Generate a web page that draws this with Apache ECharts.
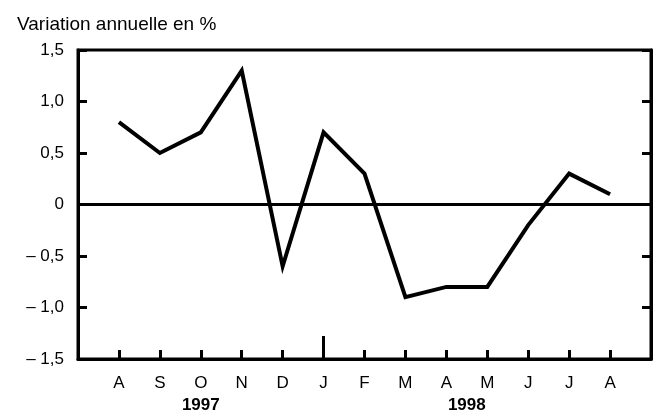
<!DOCTYPE html>
<html>
<head>
<meta charset="utf-8">
<script src="https://cdn.jsdelivr.net/npm/echarts@6/dist/echarts.min.js"></script>
<style>
  html, body { margin: 0; padding: 0; background: #fff; }
  #chart { width: 660px; height: 418px; }
</style>
</head>
<body>
<div id="chart"></div>
<script>
// month letters, Aug 1997 -> Aug 1998
const months = ["A", "S", "O", "N", "D", "J", "F", "M", "A", "M", "J", "J", "A"];
const values = [0.8, 0.5, 0.7, 1.3, -0.6, 0.7, 0.3, -0.9, -0.8, -0.8, -0.2, 0.3, 0.1];
const years = ["1997", "1998"];
const yearPos = [3, 9.5];   // centre of each year label, in month slots
const yearBreak = 6;        // the long tick before January

const font = "'Liberation Sans', Arial, sans-serif";
const black = "#000";

const chart = echarts.init(document.getElementById("chart"), null, { renderer: "canvas" });

const fmtY = (v) => {
  if (v === 0) return "0";
  const s = Math.abs(v).toFixed(1).replace(".", ",");
  return v < 0 ? "\u2013 " + s : s;
};

chart.setOption({
  backgroundColor: "#fff",
  animation: false,
  title: {
    text: "Variation annuelle en %",
    left: 12,
    top: 10,
    textStyle: { fontFamily: font, fontSize: 19, fontWeight: "normal", color: black },
  },
  grid: {
    left: 78, right: 9, top: 50, bottom: 59,
    show: true, borderColor: black, borderWidth: 3,
  },
  xAxis: [
    {
      type: "value",
      min: 0, max: months.length + 1, interval: 1,
      axisLine: { show: true, onZero: false, lineStyle: { color: black, width: 3 } },
      axisTick: { show: true, inside: true, length: 9, lineStyle: { color: black, width: 3 } },
      axisLabel: {
        margin: 16,
        fontFamily: font, fontSize: 17, color: black,
        formatter: (v) => months[v - 1] || "",
      },
      splitLine: { show: false },
    },
    {
      type: "value",
      position: "bottom",
      min: 0, max: months.length + 1,
      axisLine: { show: false, onZero: false },
      axisTick: {
        show: true, inside: true, length: 23,
        customValues: [yearBreak],
        lineStyle: { color: black, width: 3 },
      },
      axisLabel: {
        margin: 38,
        fontFamily: font, fontSize: 17, fontWeight: "bold", color: black,
        customValues: yearPos,
        formatter: (v) => years[yearPos.indexOf(v)] || "",
      },
      splitLine: { show: false },
    },
  ],
  yAxis: [
    {
      type: "value",
      min: -1.5, max: 1.5, interval: 0.5,
      axisLine: { show: true, onZero: false, lineStyle: { color: black, width: 3 } },
      axisTick: { show: true, inside: true, length: 9, lineStyle: { color: black, width: 3 } },
      axisLabel: {
        margin: 14,
        fontFamily: font, fontSize: 17, color: black,
        formatter: fmtY,
      },
      splitLine: { show: false },
    },
    {
      type: "value",
      position: "right",
      min: -1.5, max: 1.5, interval: 0.5,
      axisLine: { show: true, onZero: false, lineStyle: { color: black, width: 3 } },
      axisTick: { show: true, inside: true, length: 9, lineStyle: { color: black, width: 3 } },
      axisLabel: { show: false },
      splitLine: { show: false },
    },
  ],
  series: [
    {
      type: "line",
      data: values.map((v, i) => [i + 1, v]),
      symbol: "none",
      lineStyle: { color: black, width: 4, join: "miter" },
      markLine: {
        silent: true,
        symbol: "none",
        label: { show: false },
        lineStyle: { color: black, width: 3, type: "solid" },
        data: [{ yAxis: 0 }],
      },
    },
  ],
});
</script>
</body>
</html>
